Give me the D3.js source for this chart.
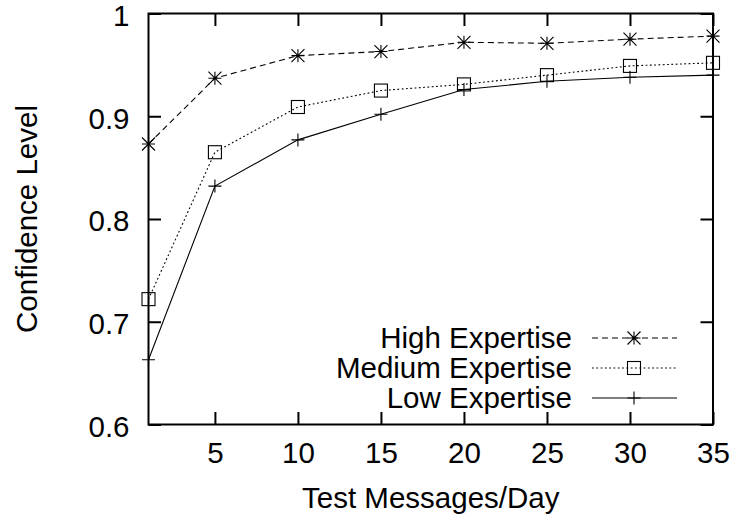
<!DOCTYPE html>
<html>
<head>
<meta charset="utf-8">
<script src="https://cdn.jsdelivr.net/npm/d3@7"></script>
<style>
  html, body { margin: 0; padding: 0; background: #fff; }
  svg { display: block; }
  text { font-family: "Liberation Sans", Arial, Helvetica, sans-serif; fill: #000; }
</style>
</head>
<body>
<script>
// Confidence level vs. number of test messages per day, per expertise group
const messagesPerDay = [1, 5, 10, 15, 20, 25, 30, 35];
const highExpertise   = [0.873, 0.937, 0.959, 0.963, 0.972, 0.971, 0.975, 0.978];
const mediumExpertise = [0.722, 0.865, 0.909, 0.925, 0.931, 0.940, 0.949, 0.952];
const lowExpertise    = [0.663, 0.832, 0.877, 0.902, 0.926, 0.934, 0.938, 0.940];
const xTicks = [5, 10, 15, 20, 25, 30, 35];
const yTicks = [0.6, 0.7, 0.8, 0.9, 1];
const seriesNames = ["High Expertise", "Medium Expertise", "Low Expertise"];

const W = 733, H = 518;
const plotL = 148.5, plotR = 713, plotT = 13.5, plotB = 424.5;

const svg = d3.select("body").append("svg").attr("width", W).attr("height", H);

const x = d3.scaleLinear().domain([1, 35]).range([plotL, plotR]);
const y = d3.scaleLinear().domain([0.6, 1]).range([plotB, plotT]);

const FS = 29.5;
const tickLen = 12.5;

// axes: ticks point inward on all four sides, labels only bottom and left
const gBottom = svg.append("g").attr("transform", `translate(0,${plotB})`)
  .call(d3.axisBottom(x).tickValues(xTicks).tickSize(-tickLen).tickPadding(18).tickFormat(d3.format("d")));
const gTop = svg.append("g").attr("transform", `translate(0,${plotT})`)
  .call(d3.axisTop(x).tickValues(xTicks).tickSize(-tickLen).tickFormat(""));
const gLeft = svg.append("g").attr("transform", `translate(${plotL},0)`)
  .call(d3.axisLeft(y).tickValues(yTicks).tickSize(-tickLen).tickPadding(19).tickFormat(d => d === 1 ? "1" : d3.format(".1f")(d)));
const gRight = svg.append("g").attr("transform", `translate(${plotR},0)`)
  .call(d3.axisRight(y).tickValues(yTicks).tickSize(-tickLen).tickFormat(""));

[gBottom, gTop, gLeft, gRight].forEach(g => {
  g.select(".domain").remove();
  g.selectAll(".tick line").attr("stroke", "#000").attr("stroke-width", 2);
  g.selectAll("text").attr("font-size", FS).attr("font-family", "Liberation Sans, Arial, sans-serif").attr("fill", "#000");
});
gBottom.selectAll("text").attr("dy", "0.71em");
gLeft.selectAll("text").attr("dy", "0.4em");

// frame
svg.append("rect")
  .attr("x", plotL).attr("y", plotT)
  .attr("width", plotR - plotL).attr("height", plotB - plotT)
  .attr("fill", "none").attr("stroke", "#000").attr("stroke-width", 2);

// axis titles
svg.append("text")
  .attr("x", (plotL + plotR) / 2).attr("y", 508)
  .attr("text-anchor", "middle").attr("font-size", FS)
  .text("Test Messages/Day");
svg.append("text")
  .attr("transform", `translate(37,${(plotT + plotB) / 2}) rotate(-90)`)
  .attr("text-anchor", "middle").attr("font-size", FS)
  .text("Confidence Level");

// point symbols
const S = 6.5;
function star(g, cx, cy) {
  const p = `M${cx - S},${cy}H${cx + S}M${cx},${cy - S}V${cy + S}` +
            `M${cx - S},${cy - S}L${cx + S},${cy + S}M${cx - S},${cy + S}L${cx + S},${cy - S}`;
  g.append("path").attr("d", p).attr("stroke", "#000").attr("stroke-width", 1.1).attr("fill", "none");
}
function square(g, cx, cy) {
  g.append("rect").attr("x", cx - S).attr("y", cy - S).attr("width", 2 * S).attr("height", 2 * S)
    .attr("fill", "none").attr("stroke", "#000").attr("stroke-width", 1.1);
}
function plus(g, cx, cy) {
  g.append("path").attr("d", `M${cx - S},${cy}H${cx + S}M${cx},${cy - S}V${cy + S}`)
    .attr("stroke", "#000").attr("stroke-width", 1.1).attr("fill", "none");
}

const series = [
  { name: seriesNames[0], values: highExpertise,   dash: "6,4", marker: star },
  { name: seriesNames[1], values: mediumExpertise, dash: "1.8,2.5", marker: square },
  { name: seriesNames[2], values: lowExpertise,    dash: null,  marker: plus }
];

const line = d3.line().x(d => x(d[0])).y(d => y(d[1]));

series.forEach(s => {
  const pts = messagesPerDay.map((m, i) => [m, s.values[i]]);
  const g = svg.append("g");
  g.append("path").attr("d", line(pts))
    .attr("fill", "none").attr("stroke", "#000").attr("stroke-width", 1.1)
    .attr("stroke-dasharray", s.dash);
  pts.forEach(p => s.marker(g, x(p[0]), y(p[1])));
});

// legend
const legX0 = 592, legX1 = 677, legMark = 634, legText = 572;
series.forEach((s, i) => {
  const cy = 338 + i * 30;
  const g = svg.append("g");
  g.append("text").attr("x", legText).attr("y", cy + 10)
    .attr("text-anchor", "end").attr("font-size", FS).text(s.name);
  g.append("line").attr("x1", legX0).attr("x2", legX1).attr("y1", cy).attr("y2", cy)
    .attr("stroke", "#000").attr("stroke-width", 1.1).attr("stroke-dasharray", s.dash);
  s.marker(g, legMark, cy);
});
</script>
</body>
</html>
